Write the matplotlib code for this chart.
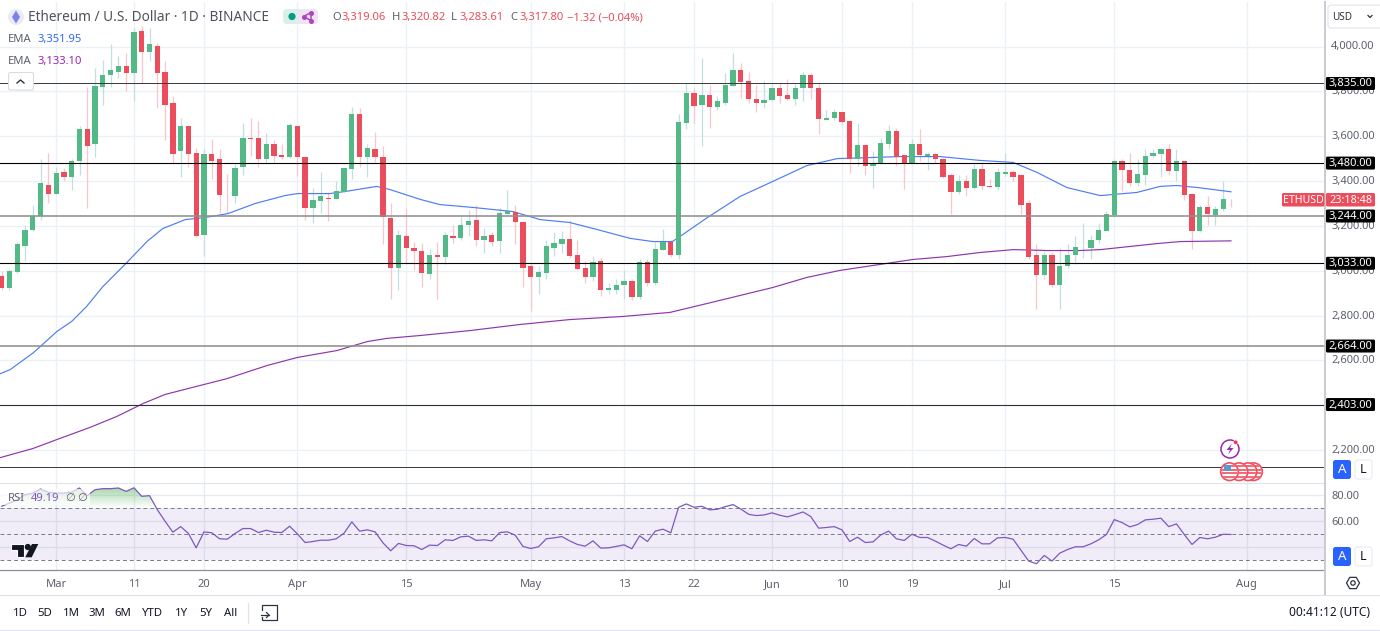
import numpy as np
import matplotlib
matplotlib.use('Agg')
import matplotlib.pyplot as plt
from matplotlib.patches import Rectangle, Circle, FancyBboxPatch, Polygon, RegularPolygon
from matplotlib.path import Path
from matplotlib.transforms import ScaledTranslation

plt.rcParams['font.family'] = ['Noto Sans', 'DejaVu Sans']

W, H = 1380, 631
FIRST_DAY = -7  # first candle, days counted from 1 March

opens = [2976,2921,2995,3112,3181,3243,3384,3344,3441,3420,3491,3630,3563,3819,3871,3888,3915,3880,4071,3976,
         4004,3885,3746,3533,3646,3523,3161,3521,3499,3335,3331,3462,3594,3591,3498,3563,3517,3508,3646,3508,
         3280,3313,3326,3318,3352,3453,3697,3505,3545,3508,3237,3014,3155,3103,3090,2986,3068,3059,3157,3148,
         3202,3225,3139,3161,3133,3255,3263,3219,3020,2970,2988,3102,3121,3142,3068,3014,2974,3043,2913,2912,
         2934,2952,2882,3041,2947,3092,3130,3072,3661,3793,3738,3783,3728,3750,3826,3893,3844,3768,3749,3761,
         3816,3783,3768,3813,3871,3816,3674,3680,3710,3668,3496,3561,3469,3481,3566,3625,3514,3481,3563,3511,
         3521,3497,3425,3350,3398,3370,3453,3380,3375,3433,3442,3425,3300,3068,2983,3072,2938,3020,3069,3100,
         3103,3136,3179,3248,3491,3451,3392,3429,3511,3521,3544,3444,3489,3340,3176,3282,3248,3274,3319.06]
highs = [2998,3008,3127,3202,3291,3499,3526,3462,3459,3500,3645,3820,3905,3942,4013,3957,3969,4083,4091,4083,
         4016,3935,3781,3682,3646,3548,3541,3588,3545,3433,3474,3657,3682,3667,3615,3585,3567,3660,3646,3508,
         3370,3442,3350,3402,3456,3731,3726,3563,3619,3555,3303,3181,3280,3129,3124,3098,3129,3173,3202,3240,
         3269,3295,3191,3172,3280,3358,3291,3219,3032,3020,3135,3173,3176,3224,3135,3043,3065,3057,2946,2961,
         3001,2965,3050,3050,3127,3184,3139,3701,3838,3816,3949,3830,3781,3883,3972,3927,3886,3828,3848,3833,
         3838,3853,3833,3887,3880,3841,3715,3723,3710,3674,3660,3561,3533,3593,3652,3637,3514,3588,3630,3529,
         3526,3503,3437,3429,3429,3477,3474,3410,3459,3523,3448,3429,3315,3117,3087,3084,3102,3117,3154,3214,
         3161,3214,3265,3496,3499,3523,3496,3545,3545,3548,3566,3545,3491,3347,3291,3335,3288,3402,3320.82]
lows = [2916,2913,2990,3042,3176,3224,3303,3344,3402,3362,3425,3280,3508,3737,3820,3860,3801,3759,3838,3935,
        3726,3585,3478,3419,3462,3151,3065,3411,3258,3258,3300,3425,3511,3462,3474,3484,3499,3503,3422,3224,
        3213,3258,3221,3318,3352,3411,3462,3419,3484,3117,2872,2916,3035,3002,2928,2961,2872,3029,3124,3135,
        3157,3109,3080,3109,3077,3255,3121,2927,2820,2898,2961,3065,3080,3057,3002,2943,2953,2889,2894,2894,
        2872,2869,2872,2931,2938,3092,3062,3050,3630,3657,3556,3637,3715,3737,3823,3771,3746,3707,3726,3756,
        3749,3761,3738,3759,3764,3610,3670,3670,3648,3437,3466,3429,3367,3478,3544,3469,3365,3474,3489,3451,
        3481,3414,3251,3340,3332,3365,3362,3374,3359,3422,3402,3255,3054,2827,2961,2928,2831,3013,3031,3057,
        3054,3124,3176,3246,3355,3377,3377,3384,3508,3417,3429,3399,3315,3095,3172,3203,3206,3268,3283.61]
closes = [2921,2998,3117,3181,3246,3389,3340,3438,3420,3491,3633,3555,3822,3875,3893,3911,3880,4065,3976,4009,
          3880,3741,3520,3646,3520,3157,3520,3491,3337,3331,3456,3594,3588,3499,3563,3511,3509,3648,3505,3280,
          3316,3331,3320,3356,3456,3697,3508,3549,3505,3239,3014,3161,3103,3089,2988,3071,3059,3161,3148,3206,
          3222,3139,3157,3130,3257,3266,3215,3014,2970,2992,3108,3123,3142,3065,3007,2974,3041,2912,2921,2934,
          2955,2882,3041,2947,3098,3127,3072,3665,3793,3735,3784,3728,3755,3828,3896,3841,3764,3749,3761,3816,
          3781,3768,3816,3871,3813,3677,3683,3710,3665,3499,3561,3466,3480,3570,3625,3509,3481,3563,3514,3521,
          3496,3420,3353,3398,3371,3453,3377,3375,3439,3441,3419,3294,3059,2983,3072,2934,3023,3072,3106,3103,
          3139,3181,3251,3489,3448,3389,3431,3511,3523,3541,3444,3489,3337,3178,3282,3251,3277,3322,3317.80]

ema50_days = [-7.22,-5.9,-2.9,0.1,2,3.9,6,9.1,11.7,13.7,16.6,19.1,22.1,25.6,29.4,31,35.2,37.1,41.2,42.9,46.8,49.3,
              53.6,58.7,62.2,66,69.5,73.8,76.7,79.2,80.2,83.7,87.9,92.1,96.5,100.4,108.5,113.6,118.7,123,126.1,
              129.9,134.2,138.9,141.9,144,146.7,151]
ema50 = [2540,2559,2635,2729,2774,2840,2929,3037,3131,3188,3228,3237,3255,3300,3335,3344,3344,3353,3376,3362,3318,3295,
         3282,3264,3228,3215,3184,3144,3130,3130,3153,3237,3331,3398,3469,3500,3509,3509,3492,3483,3438,
         3371,3335,3349,3376,3380,3371,3351.95]
ema200_days = [-7.22,-2.98,0.1,4.35,7.8,11.2,14,18.5,22,27.1,31,36.1,40,42.5,46.8,53.2,59.6,66,72.9,78.9,83.7,92.1,
               96.5,100.7,105.9,110.1,114.5,118.7,123,127.4,131.6,134.2,138,141.5,144.5,151]
ema200 = [2166,2207,2247,2301,2350,2408,2448,2488,2519,2577,2613,2644,2684,2698,2711,2733,2760,2782,2796,2814,2854,2925,
          2970,3001,3028,3050,3063,3081,3094,3090,3090,3094,3108,3121,3130,3133.10]

rsi = [71.3,73.8,76.4,80.3,81.5,84.6,82.1,81.5,81.5,82.3,85.4,79.5,84.1,84.9,84.9,85.4,82.8,85.6,79,79.5,
       68.7,59.7,51.3,55.6,50.3,39.2,51.5,50.8,46.2,45.9,50.3,54.1,54.1,51,52.8,51.3,51,55.9,50,43.3,
       44.1,45.1,45.1,46.2,50.5,59.2,52.1,53.1,51.5,43.1,36.9,42.6,41,40.8,37.9,41.3,41,45.4,44.9,47.7,
       48.2,44.9,45.4,44.6,51,51.5,49,40.3,38.7,40,46.2,46.9,47.9,44.6,41.8,40.5,44.6,39,39.2,40.3,
       41.5,38.5,48.5,44.1,52.1,53.6,50.8,70.5,73.1,70.5,71.3,68.5,69,71,72.6,69.2,65.1,64.1,64.6,66.2,
       64.4,63.1,64.9,66.9,63.3,54.4,54.9,55.6,53.1,44.1,47.4,43.3,43.8,49.2,52.1,46.2,44.9,49.7,47.2,47.2,
       44.4,41.3,38.5,41.8,40.5,46.4,42.3,42.3,46.9,47.2,45.9,37.4,29,26.9,33.3,29,35.1,37.9,40,40,
       42.3,45.4,49.5,61,58.7,55.4,57.2,60.8,61.3,62.1,55.6,57.7,49.5,41.8,47.2,46.2,47.4,49.7,49.5]

level_prices = [3835, 3480, 3244, 3033, 2664, 2403, 2125]
level_colors = ['#3c3c3c', '#000000', '#8f8f8f', '#000000', '#8f8f8f', '#333333', '#3c3c3c']
level_widths = [1.0, 1.1, 1.6, 1.1, 1.6, 1.1, 1.0]
level_labels = ['3,835.00', '3,480.00', '3,244.00', '3,033.00', '2,664.00', '2,403.00']

price_ticks = [2200, 2400, 2600, 2800, 3000, 3200, 3400, 3600, 3800, 4000]
rsi_ticks = [40, 60, 80]
date_days = [0, 10, 19, 31, 45, 61, 73, 82, 92, 101, 110, 122, 136, 153]
date_labels = ['Mar', '11', '20', 'Apr', '15', 'May', '13', '22', 'Jun', '10', '19', 'Jul', '15', 'Aug']
range_labels = ['1D', '5D', '1M', '3M', '6M', 'YTD', '1Y', '5Y', 'All']
range_x = [20, 45, 71, 97, 123, 153, 181, 206, 231]

GREEN, RED = '#53b987', '#eb4d5c'
GREEN_W, RED_W = '#c4dfdf', '#f9c6cc'
GRID = '#ecf1f6'
AXIS_TXT = '#5d606b'
PX_DAY = 7.78
X0 = 56.16
Y4000 = 46.5


def pane(top, bottom):
    return [0, 1 - bottom / H, 1325 / W, (bottom - top) / H]


fig = plt.figure(figsize=(W / 100, H / 100), dpi=100, facecolor='white')
xlim = (-X0 / PX_DAY, (1325 - X0) / PX_DAY)
days = np.arange(len(opens)) + FIRST_DAY
o, h, l, c = map(np.array, (opens, highs, lows, closes))
up = c >= o
lift = ScaledTranslation(0, 1.0 / 100, fig.dpi_scale_trans)

# price pane
ax = fig.add_axes(pane(2, 483))
ax.set_xlim(xlim)
ax.set_ylim(4000 - (483 - Y4000) / 0.2242, 4000 + (Y4000 - 2) / 0.2242)
ax.set_xticks(date_days)
ax.set_xticklabels([])
ax.set_yticks(price_ticks)
ax.set_yticklabels([f'{p:,.2f}' for p in price_ticks])
ax.yaxis.tick_right()
ax.tick_params(axis='both', length=0, labelsize=8, labelcolor=AXIS_TXT, pad=4.5)
for lab in ax.get_yticklabels():
    lab.set_transform(lab.get_transform() + lift)
ax.grid(True, color=GRID, lw=1.0, zorder=0)
ax.set_axisbelow(True)
for s in ax.spines.values():
    s.set_visible(False)

ax.vlines(days[up], l[up], h[up], color=GREEN_W, lw=0.9, zorder=2)
ax.vlines(days[~up], l[~up], h[~up], color=RED_W, lw=0.9, zorder=2)
ax.plot(ema50_days, ema50, color='#4d7cf5', lw=0.85, zorder=2.5)
ax.plot(ema200_days, ema200, color='#8e35ad', lw=0.85, zorder=2.5)
ax.bar(days[up], (c - o)[up], bottom=o[up], width=0.68, color=GREEN, lw=0, zorder=3)
ax.bar(days[~up], (o - c)[~up], bottom=c[~up], width=0.68, color=RED, lw=0, zorder=3)
for p, col, lw in zip(level_prices, level_colors, level_widths):
    ax.axhline(p, color=col, lw=lw * 0.72, zorder=4)

# rsi pane
ar = fig.add_axes(pane(483, 570))
ar.set_xlim(xlim)
ar.set_ylim(80 - (570 - 495) / 1.295, 80 + (495 - 483) / 1.295)
ar.set_xticks(date_days)
ar.set_xticklabels(date_labels)
ar.set_yticks(rsi_ticks)
ar.set_yticklabels(['', '60.00', '80.00'])
ar.yaxis.tick_right()
ar.tick_params(axis='y', length=0, labelsize=8, labelcolor=AXIS_TXT, pad=4.5)
ar.tick_params(axis='x', length=0, labelsize=8, labelcolor=AXIS_TXT, pad=6.5)
ar.grid(True, color='#e6ebf3', lw=1.0, zorder=0)
ar.set_axisbelow(True)
for s in ar.spines.values():
    s.set_visible(False)
ar.spines['top'].set_visible(True)
ar.spines['top'].set_color('#e0e3eb')
ar.spines['bottom'].set_visible(True)
ar.spines['bottom'].set_color('#8a8d96')
ar.spines['bottom'].set_linewidth(0.9)

r = np.array(rsi)
ar.axhspan(30, 70, color='#7e57c2', alpha=0.10, lw=0, zorder=1)
for v in (70, 50, 30):
    ar.axhline(v, color='#787b86', lw=0.7, ls=(0, (4, 3)), zorder=2)
poly = ar.fill_between(days, 70, r, where=r > 70, interpolate=True, color='none', zorder=1.5)
clip = Path.make_compound_path(*poly.get_paths())
grad = np.zeros((64, 2, 4))
grad[..., :3] = matplotlib.colors.to_rgb('#4caf50')
grad[..., 3] = np.linspace(0.55, 0.0, 64)[:, None]
im = ar.imshow(grad, extent=(xlim[0], xlim[1], 70, 87), origin='upper', aspect='auto', zorder=1.5)
im.set_clip_path(clip, transform=ar.transData)
ar.set_xlim(xlim)
ar.set_ylim(80 - (570 - 495) / 1.295, 80 + (495 - 483) / 1.295)
ar.plot(days, r, color='#7e57c2', lw=0.9, zorder=3)

# overlay in pixel coordinates for the terminal furniture
ov = fig.add_axes([0, 0, 1, 1], zorder=10)
ov.set_xlim(0, W)
ov.set_ylim(H, 0)
ov.axis('off')
ov.patch.set_alpha(0)


def txt(x, y, s, color='#4a4a4a', size=8, ha='left', **kw):
    ov.text(x, y + 1.3, s, color=color, fontsize=size, ha=ha, va='center', **kw)


def rbox(x0, y0, x1, y1, fc, ec='none', rad=2.0, lw=0.8, z=5):
    b = FancyBboxPatch((x0 + rad, y0 + rad), x1 - x0 - 2 * rad, y1 - y0 - 2 * rad,
                       boxstyle=f'round,pad={rad}', fc=fc, ec=ec, lw=lw, zorder=z)
    ov.add_patch(b)
    return b


# right column
ov.plot([1325, 1325], [2, 595], color='#c9cbd1', lw=1.4, zorder=1)
ov.plot([0, W], [595, 595], color='#e0e3eb', lw=0.9, zorder=1)
ov.plot([0, W], [630, 630], color='#e0e3eb', lw=0.9, zorder=1)
ov.add_patch(Rectangle((1326, 570), 54, 25, fc='white', ec='none', zorder=1))
rbox(1328, 5, 1384, 28, 'white', '#e0e3eb', rad=3)
txt(1332, 16, 'USD', '#2f3241', 7.2, zorder=6)
ov.plot([1368, 1370, 1372], [15.5, 17.5, 15.5], color='#2f3241', lw=0.9, zorder=6)

for p, lab in zip(level_prices, level_labels):
    ym = Y4000 + (4000 - p) * 0.2242
    rbox(1326, ym - 6.5, 1375, ym + 6.5, 'black', rad=1.5)
    txt(1350.5, ym - 0.8, lab, 'white', 8, ha='center', zorder=6)

rbox(1282, 193, 1324.5, 206.5, RED, rad=1.5)
rbox(1326, 193, 1375, 206.5, RED, rad=1.5)
txt(1303, 199, 'ETHUSD', 'white', 7.6, ha='center', zorder=6)
txt(1350.5, 199, '23:18:48', 'white', 7.8, ha='center', zorder=6)

for yc0, yc1 in ((460, 479), (547, 566)):
    rbox(1333, yc0, 1351, yc1, '#2962ff', rad=2.5)
    txt(1342, (yc0 + yc1) / 2 - 1, 'A', 'white', 9.5, ha='center', zorder=6)
    rbox(1355, yc0, 1372, yc1, 'white', '#e8eaf0', rad=2.5)
    txt(1363.5, (yc0 + yc1) / 2 - 1, 'L', '#131722', 9, ha='center', zorder=6)

# settings icon
ov.add_patch(RegularPolygon((1353, 583), 6, radius=6.5, orientation=np.pi / 2, fc='none', ec='#2f3241', lw=0.9))
ov.add_patch(Circle((1353, 583), 2.2, fc='none', ec='#2f3241', lw=0.9))

# header
ov.add_patch(Circle((16, 17), 8, fc='#e9ebf8', ec='none', zorder=5))
ov.add_patch(Polygon([(16, 10.5), (20, 17), (16, 23.5), (12, 17)], fc='#7b83e8', ec='none', zorder=6))
txt(28, 16.5, 'Ethereum / U.S. Dollar · 1D · BINANCE', '#4f525c', 9.8)
rbox(283, 9, 300, 24, '#d9efea', rad=4)
rbox(298, 9, 318, 24, '#f0e4f4', rad=4)
ov.add_patch(Rectangle((296, 9), 4, 15, fc='#e5e9ef', ec='none', zorder=6))
ov.add_patch(Circle((292, 16.5), 3.6, fc='#089981', ec='none', zorder=7))
ov.plot([311, 303.5, 311], [12.5, 16.5, 20.5], color='#ab47bc', lw=1.1, marker='o', ms=2.6, zorder=7)
ov.plot([311, 311], [12.5, 20.5], color='#ab47bc', lw=1.1, zorder=7)

for x, lab, val in ((332, 'O', '3,319.06'), (392, 'H', '3,320.82'), (451, 'L', '3,283.61'), (510, 'C', '3,317.80')):
    txt(x, 16.3, lab, '#5d606b', 8.1)
    txt(x + 9, 16.3, val, RED, 8.1)
txt(567, 16.3, '−1.32 (−0.04%)', RED, 8.1)

txt(8, 38.5, 'EMA', '#5d606b', 8.1)
txt(37, 38.5, '3,351.95', '#2f6bff', 8.1)
txt(8, 60, 'EMA', '#5d606b', 8.1)
txt(37, 60, '3,133.10', '#9c27b0', 8.1)
rbox(8.5, 72.5, 33.5, 90, 'white', '#d9dbe1', rad=2)
ov.plot([17, 20.5, 24], [83, 80, 83], color='#2f3241', lw=1.0, zorder=6)

# rsi legend and logo
ov.add_patch(Rectangle((0, 489), 90, 16, fc='white', alpha=0.65, ec='none', zorder=3))
txt(8, 497, 'RSI', '#5d606b', 8.1, zorder=6)
txt(31, 497, '49.19', '#7e57c2', 8.1, zorder=6)
txt(65, 497, '∅', '#5d606b', 8.1, zorder=6)
txt(77, 497, '∅', '#5d606b', 8.1, zorder=6)
ov.add_patch(Polygon([(10.7, 544), (24, 544), (24, 557.3), (17.3, 557.3), (17.3, 550), (10.7, 550)],
                     fc='#131722', ec='white', lw=0.8, zorder=6))
ov.add_patch(Circle((27.8, 547), 3.1, fc='#131722', ec='none', zorder=6))
ov.add_patch(Polygon([(32, 544), (38.3, 544), (31.7, 557.3), (25.2, 557.3)], fc='#131722', ec='none', zorder=6))

# event markers
ov.add_patch(Circle((1230, 449), 9, fc='white', ec='#9c27b0', lw=1.1, zorder=6))
ov.add_patch(Polygon([(1232, 443.5), (1226.5, 450), (1230, 450), (1228, 454.5), (1233.5, 448), (1230, 448)],
                     fc='#9c27b0', ec='none', zorder=7))
ov.add_patch(Circle((1235.7, 442.3), 2.2, fc='#f23645', ec='white', lw=0.4, zorder=8))
for i, cx in enumerate((1253.5, 1248, 1239, 1229.5)):
    base = 6 + i * 0.1
    disc = Circle((cx, 471.7), 8.8, fc='white', ec='#f0505f', lw=1.2, zorder=base)
    ov.add_patch(disc)
    for sy in (466, 469.5, 473, 476.5):
        ln, = ov.plot([cx - 9, cx + 9], [sy, sy], color='#f0505f', lw=1.2, zorder=base + 0.01)
        ln.set_clip_path(Circle((cx, 471.7), 8, transform=ov.transData))
ov.add_patch(Rectangle((1224, 465), 7, 6, fc='#5b9bd5', ec='none', zorder=6.5))

# bottom toolbar
for x, lab in zip(range_x, range_labels):
    txt(x, 612.5, lab, '#131722', 8.2, ha='center')
ov.plot([248, 248], [603, 623], color='#e0e3eb', lw=0.9)
ov.add_patch(Rectangle((262, 605), 15, 15, fc='none', ec='#2f3241', lw=0.9))
ov.add_patch(Rectangle((259, 611), 9, 6, fc='white', ec='none', zorder=3))
ov.plot([261, 269], [615, 615], color='#2f3241', lw=0.9, zorder=4)
ov.plot([266.5, 269, 266.5], [612.5, 615, 617.5], color='#2f3241', lw=0.9, zorder=4)
txt(1370, 611.5, '00:41:12 (UTC)', '#131722', 8.6, ha='right')

fig.savefig('out.png', dpi=100, facecolor='white')
